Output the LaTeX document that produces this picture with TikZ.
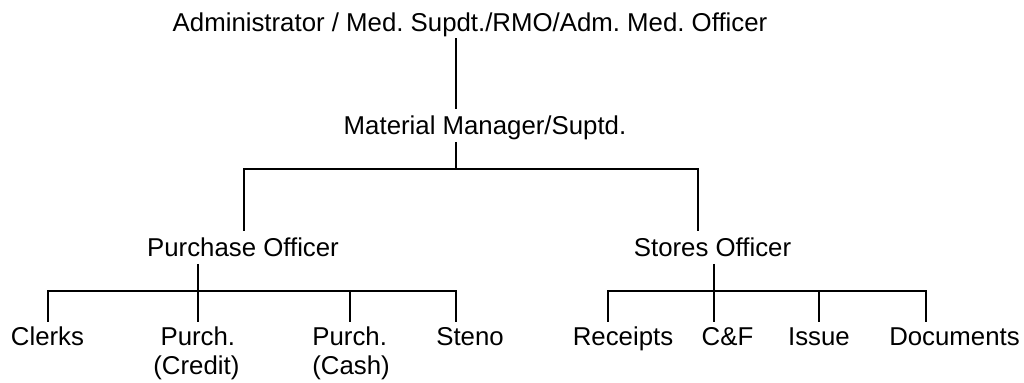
\documentclass[tikz,border=0pt]{standalone}
\usepackage{fontspec}
\setmainfont{Liberation Sans}
\frenchspacing
\begin{document}
\begin{tikzpicture}[x=0.5pt,y=-0.5pt,
  every node/.style={font=\fontsize{12.9}{14.5}\selectfont\frenchspacing, inner sep=0pt},
  midbox/.style={anchor=base, text height=12.9pt, text depth=3.2pt},
  leafbox/.style={anchor=north, inner ysep=2.1pt, text height=9.4pt, text depth=2.8pt},
  leafleft/.style={anchor=north west, inner ysep=2.1pt, align=left},
  conn/.style={line width=1.1pt}]
\useasboundingbox (0,0) rectangle (1024,383);
% nodes
\node[midbox] (top) at (470,31.7) {Administrator / Med. Supdt./RMO/Adm. Med. Officer};
\node[midbox] (mm) at (485,135) {Material Manager/Suptd.};
\node[midbox] (po) at (243,257) {Purchase Officer};
\node[midbox] (so) at (712.5,257) {Stores Officer};
\node[leafbox] (clerks) at (47.5,322) {Clerks};
\node[leafleft] (credit) at (153,322) {\hspace*{0.278em}Purch.\\(Credit)};
\node[leafleft] (cash) at (312,322) {Purch.\\(Cash)};
\node[leafbox] (steno) at (470,322) {Steno};
\node[leafbox] (rec) at (623,322) {Receipts};
\node[leafbox] (cf) at (727.5,322) {C\&F};
\node[leafbox] (issue) at (819,322) {Issue};
\node[leafbox] (docs) at (954.5,322) {Documents};
% bus coordinates
\coordinate (b1) at (456,169);
\coordinate (L1) at (244,169);
\coordinate (R1) at (698,169);
\coordinate (l2a) at (48,291);
\coordinate (l2b) at (198,291);
\coordinate (l2c) at (350,291);
\coordinate (l2d) at (456,291);
\coordinate (r2a) at (608,291);
\coordinate (r2b) at (714,291);
\coordinate (r2c) at (819,291);
\coordinate (r2d) at (926,291);
% connectors
\draw[conn] (top.south -| b1) -- (mm.north -| b1);
\draw[conn] (mm.south -| b1) -- (b1);
\draw[conn] (po.north -| L1) -- (L1) -- (R1) -- (so.north -| R1);
\draw[conn] (po.south -| l2b) -- (l2b);
\draw[conn] (clerks.north -| l2a) -- (l2a) -- (l2d) -- (steno.north -| l2d);
\draw[conn] (l2b) -- (credit.north -| l2b);
\draw[conn] (l2c) -- (cash.north -| l2c);
\draw[conn] (so.south -| r2b) -- (r2b);
\draw[conn] (rec.north -| r2a) -- (r2a) -- (r2d) -- (docs.north -| r2d);
\draw[conn] (r2b) -- (cf.north -| r2b);
\draw[conn] (r2c) -- (issue.north -| r2c);
\end{tikzpicture}
\end{document}
